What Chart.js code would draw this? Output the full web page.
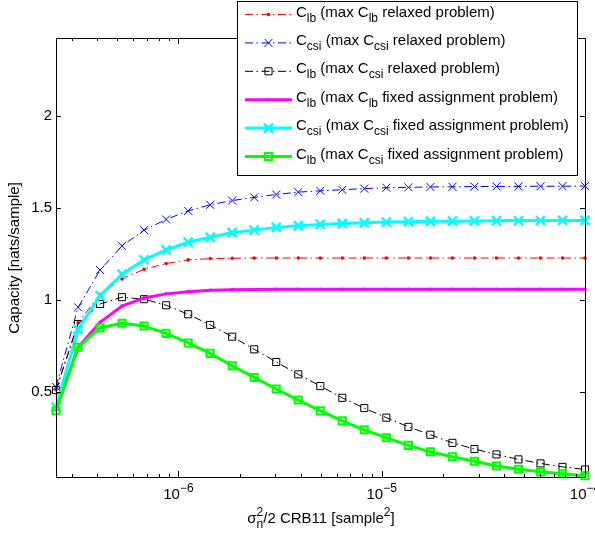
<!DOCTYPE html>
<html>
<head>
<meta charset="utf-8">
<script src="https://cdn.jsdelivr.net/npm/chart.js@4/dist/chart.umd.min.js"></script>
<style>
  body{margin:0;background:#fff;}
  canvas{display:block;}
</style>
</head>
<body>
<canvas id="cap" width="595" height="535"></canvas>
<script>
// noise variance axis (log spaced sample points)
const sigma = [2.5e-7, 3.21e-7, 4.12e-7, 5.28e-7, 6.78e-7, 8.7e-7, 1.117e-6, 1.433e-6, 1.839e-6,
  2.36e-6, 3.029e-6, 3.887e-6, 4.988e-6, 6.4e-6, 8.21e-6, 1.054e-5, 1.353e-5, 1.736e-5,
  2.228e-5, 2.859e-5, 3.669e-5, 4.708e-5, 6.04e-5, 7.75e-5, 1e-4];

const clbRelaxed = [0.51, 0.875, 1.03, 1.113, 1.166, 1.197, 1.217, 1.224, 1.226, 1.227, 1.227, 1.227,
  1.227, 1.227, 1.227, 1.227, 1.227, 1.227, 1.227, 1.227, 1.227, 1.227, 1.227, 1.227, 1.227];
const ccsiRelaxed = [0.526, 0.959, 1.162, 1.293, 1.379, 1.437, 1.484, 1.517, 1.540, 1.557, 1.573, 1.586,
  1.593, 1.599, 1.605, 1.610, 1.612, 1.614, 1.615, 1.616, 1.617, 1.617, 1.618, 1.618, 1.619];
const clbCsiRelaxed = [0.508, 0.868, 0.977, 1.014, 1.003, 0.970, 0.921, 0.863, 0.799, 0.730, 0.661, 0.594,
  0.530, 0.466, 0.410, 0.358, 0.308, 0.265, 0.221, 0.187, 0.158, 0.131, 0.109, 0.090, 0.076];
const clbFixed = [0.40, 0.741, 0.877, 0.966, 1.010, 1.032, 1.044, 1.052, 1.055, 1.056, 1.057, 1.057,
  1.057, 1.057, 1.057, 1.057, 1.057, 1.057, 1.057, 1.057, 1.057, 1.057, 1.057, 1.057, 1.057];
const ccsiFixed = [0.415, 0.839, 1.022, 1.139, 1.217, 1.271, 1.313, 1.340, 1.366, 1.379, 1.394, 1.403,
  1.410, 1.415, 1.419, 1.423, 1.425, 1.427, 1.428, 1.429, 1.430, 1.431, 1.431, 1.432, 1.432];
const clbCsiFixed = [0.396, 0.741, 0.848, 0.872, 0.857, 0.817, 0.765, 0.708, 0.641, 0.577, 0.514, 0.454,
  0.396, 0.341, 0.292, 0.249, 0.207, 0.172, 0.145, 0.121, 0.095, 0.077, 0.063, 0.053, 0.042];

const yTicks = [0.5, 1, 1.5, 2];
const xMajor = [1e-6, 1e-5, 1e-4];
const xMinor = [3e-7, 4e-7, 5e-7, 6e-7, 7e-7, 8e-7, 9e-7, 2e-6, 3e-6, 4e-6, 5e-6, 6e-6, 7e-6, 8e-6, 9e-6,
  2e-5, 3e-5, 4e-5, 5e-5, 6e-5, 7e-5, 8e-5, 9e-5];

// legend text: [main, subscript] pieces
const legendText = [
  [["C","lb"],[" (max C","lb"],[" relaxed problem)",""]],
  [["C","csi"],[" (max C","csi"],[" relaxed problem)",""]],
  [["C","lb"],[" (max C","csi"],[" relaxed problem)",""]],
  [["C","lb"],[" (max C","lb"],[" fixed assignment problem)",""]],
  [["C","csi"],[" (max C","csi"],[" fixed assignment problem)",""]],
  [["C","lb"],[" (max C","csi"],[" fixed assignment problem)",""]]
];

const FONT = "'Liberation Sans', Arial, Helvetica, sans-serif";
const dashDot = [8,3.5,1.5,3.5];

const series = [
  {data: clbRelaxed, color: "#ff0000", width: 1, dash: dashDot, marker: "circle", r: 1.8, mw: 0},
  {data: ccsiRelaxed, color: "#0000ff", width: 1, dash: dashDot, marker: "crossRot", r: 5.7, mw: 1},
  {data: clbCsiRelaxed, color: "#000000", width: 1, dash: dashDot, marker: "rect", r: 5, mw: 1},
  {data: clbFixed, color: "#ff00ff", width: 3, dash: [], marker: "circle", r: 1.8, mw: 0},
  {data: ccsiFixed, color: "#00ffff", width: 3, dash: [], marker: "crossRot", r: 6.4, mw: 2.5},
  {data: clbCsiFixed, color: "#00ff00", width: 3, dash: [], marker: "rect", r: 5, mw: 2}
];

function drawMarker(ctx, s, x, y){
  ctx.save();
  ctx.setLineDash([]);
  ctx.strokeStyle = s.color;
  ctx.fillStyle = s.color;
  ctx.lineWidth = s.mw;
  ctx.beginPath();
  if(s.marker === "circle"){
    ctx.arc(x, y, s.r, 0, Math.PI*2);
    ctx.fill();
  }else if(s.marker === "crossRot"){
    const d = s.r*Math.SQRT1_2;
    ctx.moveTo(x-d, y-d); ctx.lineTo(x+d, y+d);
    ctx.moveTo(x-d, y+d); ctx.lineTo(x+d, y-d);
    ctx.stroke();
  }else{
    const d = s.r*Math.SQRT1_2;
    ctx.rect(x-d, y-d, 2*d, 2*d);
    ctx.stroke();
  }
  ctx.restore();
}

// text with sub/superscripts, returns advance
function richText(ctx, parts, x, y, size, draw){
  let cx = x;
  for(const p of parts){
    ctx.font = size + "px " + FONT;
    if(p.t){ if(draw) ctx.fillText(p.t, cx, y); cx += ctx.measureText(p.t).width; }
    let w = 0;
    ctx.font = Math.round(size*0.78) + "px " + FONT;
    if(p.sub){ if(draw) ctx.fillText(p.sub, cx, y + 5); w = Math.max(w, ctx.measureText(p.sub).width); }
    if(p.sup){ if(draw) ctx.fillText(p.sup, cx, y - 7); w = Math.max(w, ctx.measureText(p.sup).width); }
    cx += w;
  }
  return cx - x;
}

const matlabAxes = {
  id: "matlabAxes",
  afterDraw(chart){
    const {ctx, chartArea: a, scales: {x, y}} = chart;
    ctx.save();
    ctx.strokeStyle = "#000";
    ctx.fillStyle = "#000";
    ctx.lineWidth = 1;
    ctx.setLineDash([]);
    ctx.strokeRect(Math.round(a.left)+0.5, Math.round(a.top)+0.5, Math.round(a.right-a.left), Math.round(a.bottom-a.top));

    // ticks pointing inwards, on all four sides
    ctx.beginPath();
    yTicks.forEach(v=>{
      const py = Math.round(y.getPixelForValue(v))+0.5;
      ctx.moveTo(a.left, py); ctx.lineTo(a.left+5, py);
      ctx.moveTo(a.right, py); ctx.lineTo(a.right-5, py);
    });
    xMinor.forEach(v=>{
      const px = Math.round(x.getPixelForValue(v))+0.5;
      ctx.moveTo(px, a.bottom); ctx.lineTo(px, a.bottom-3);
      ctx.moveTo(px, a.top); ctx.lineTo(px, a.top+3);
    });
    xMajor.forEach(v=>{
      const px = Math.round(x.getPixelForValue(v))+0.5;
      ctx.moveTo(px, a.bottom); ctx.lineTo(px, a.bottom-6);
      ctx.moveTo(px, a.top); ctx.lineTo(px, a.top+6);
    });
    ctx.stroke();

    // tick labels
    ctx.font = "15px " + FONT;
    ctx.textAlign = "right";
    ctx.textBaseline = "middle";
    yTicks.forEach(v=>ctx.fillText(String(v), a.left-4, y.getPixelForValue(v)));

    ctx.textAlign = "left";
    ctx.textBaseline = "alphabetic";
    xMajor.forEach(v=>{
      const parts = [{t:"10", sup:"\u2212" + Math.round(-Math.log10(v))}];
      const w = richText(ctx, parts, 0, 0, 15, false);
      richText(ctx, parts, x.getPixelForValue(v) - w/2, 499, 15, true);
    });

    // x title
    const xt = [{t:"\u03c3", sub:"n", sup:"2"}, {t:"/2 CRB11 [sample", sup:"2"}, {t:"]"}];
    const xw = richText(ctx, xt, 0, 0, 15, false);
    richText(ctx, xt, 321 - xw/2, 523, 15, true);

    // y title
    ctx.save();
    ctx.translate(15, 258);
    ctx.rotate(-Math.PI/2);
    ctx.textAlign = "center";
    ctx.textBaseline = "middle";
    ctx.font = "15px " + FONT;
    ctx.fillText("Capacity [nats/sample]", 0, 0);
    ctx.restore();

    // legend
    ctx.fillStyle = "#fff";
    ctx.fillRect(237.5, 1.5, 340, 174);
    ctx.strokeStyle = "#000";
    ctx.strokeRect(237.5, 1.5, 340, 174);
    series.forEach((s, i)=>{
      const ry = 14.5 + 28.4*i;
      ctx.save();
      ctx.strokeStyle = s.color;
      ctx.lineWidth = s.width;
      ctx.setLineDash(s.dash);
      ctx.beginPath();
      ctx.moveTo(245, ry); ctx.lineTo(292, ry);
      ctx.stroke();
      ctx.restore();
      drawMarker(ctx, s, 268.5, ry);
      ctx.fillStyle = "#000";
      ctx.textAlign = "left";
      ctx.textBaseline = "alphabetic";
      const parts = legendText[i].map(p=>({t:p[0], sub:p[1]}));
      richText(ctx, parts, 296, ry + 2, 15, true);
    });
    ctx.restore();
  }
};

new Chart(document.getElementById("cap"), {
  type: "line",
  data: {
    labels: sigma,
    datasets: series.map((s, i)=>({
      data: sigma.map((v, k)=>({x: v, y: s.data[k]})),
      borderColor: s.color,
      borderWidth: s.width,
      borderDash: s.dash,
      pointStyle: s.marker,
      pointRadius: s.r,
      pointBorderWidth: s.mw,
      pointBorderColor: s.color,
      pointBackgroundColor: s.marker === "circle" ? s.color : "rgba(0,0,0,0)",
      tension: 0,
      fill: false,
      clip: false,
      order: 6 - i
    }))
  },
  options: {
    responsive: false,
    devicePixelRatio: 1,
    animation: false,
    layout: {padding: {top: 38, right: 10, left: 0, bottom: 0}},
    plugins: {legend: {display: false}, tooltip: {enabled: false}},
    scales: {
      x: {
        type: "logarithmic",
        min: 2.5e-7,
        max: 1e-4,
        ticks: {display: false},
        grid: {display: false},
        border: {display: false},
        afterFit: s=>{ s.height = 58; }
      },
      y: {
        type: "linear",
        min: 0.035,
        max: 2.425,
        ticks: {display: false},
        grid: {display: false},
        border: {display: false},
        afterFit: s=>{ s.width = 56; }
      }
    }
  },
  plugins: [matlabAxes]
});
</script>
</body>
</html>
